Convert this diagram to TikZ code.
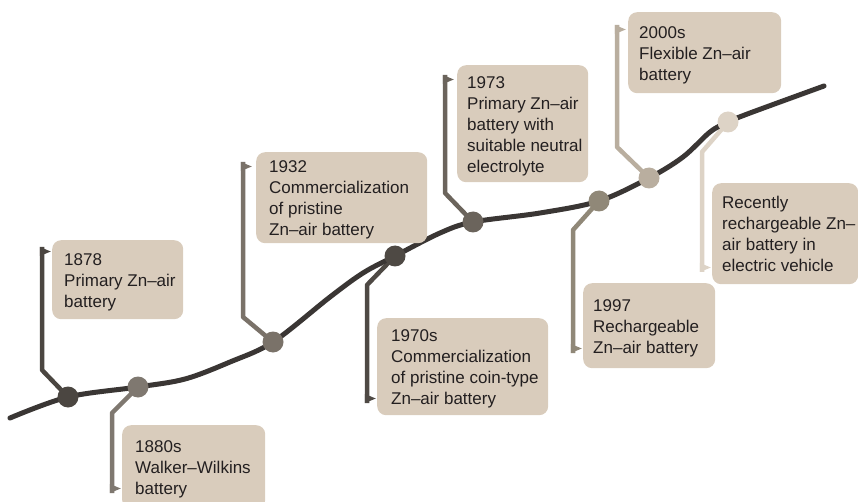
\documentclass[tikz,border=0pt]{standalone}
\usepackage{fontspec}
\setmainfont{Liberation Sans}
\usetikzlibrary{backgrounds}
\definecolor{boxfill}{HTML}{D9CCBC}
\definecolor{txt}{HTML}{231F20}
\definecolor{curvec}{HTML}{3A3634}
\definecolor{c1}{HTML}{4B4641}
\definecolor{c2}{HTML}{7F7870}
\definecolor{c3}{HTML}{7A7269}
\definecolor{c4}{HTML}{4E4944}
\definecolor{c5}{HTML}{6B645C}
\definecolor{c6}{HTML}{908878}
\definecolor{c7}{HTML}{B9AE9F}
\definecolor{c8}{HTML}{DDD3C6}
\newcommand\boxtext[3]{\makebox[#1][l]{\hspace{#2}\begin{tabular}{@{}l@{}}\rule{0pt}{19.5pt}#3\end{tabular}}}
\tikzset{
  tbox/.style={fill=boxfill, rounded corners=9pt, inner sep=0pt, anchor=north west,
    text=txt, font=\fontsize{17}{21}\selectfont},
  dot/.style={circle, inner sep=0pt, minimum size=21pt, fill=#1},
  link/.style={line width=4.5pt, line join=round, draw=#1},
  curvestyle/.style={line width=5pt, draw=curvec, line cap=round},
}
\begin{document}
\begin{tikzpicture}[x=1pt,y=-1pt]
\useasboundingbox (0,0) rectangle (858,502);
\clip (0,0) rectangle (858,502);
% milestone dots
\node[dot=c1] (n1) at (68,397) {};
\node[dot=c2] (n2) at (138,387) {};
\node[dot=c3] (n3) at (273,342) {};
\node[dot=c4] (n4) at (395,256) {};
\node[dot=c5] (n5) at (473,222) {};
\node[dot=c6] (n6) at (599,201) {};
\node[dot=c7] (n7) at (649,178) {};
\node[dot=c8] (n8) at (728,122) {};
% boxes
\node[tbox, minimum width=131pt, minimum height=79pt] (b1) at (52,240)
  {\boxtext{131pt}{12pt}{1878\\Primary Zn–air\\battery}};
\node[tbox, minimum width=143pt, minimum height=84pt] (b2) at (122,425)
  {\boxtext{143pt}{13pt}{1880s\\Walker–Wilkins\\battery}};
\node[tbox, minimum width=171pt, minimum height=91pt] (b3) at (256,152)
  {\boxtext{171pt}{13pt}{1932\\Commercialization\\of pristine\\Zn–air battery}};
\node[tbox, minimum width=171pt, minimum height=97pt] (b4) at (377,318)
  {\boxtext{171pt}{14pt}{1970s\\Commercialization\\of pristine coin-type\\Zn–air battery}};
\node[tbox, minimum width=131pt, minimum height=117pt] (b5) at (457,65)
  {\boxtext{131pt}{10pt}{1973\\Primary Zn–air\\battery with\\suitable neutral\\electrolyte}};
\node[tbox, minimum width=132pt, minimum height=85pt] (b6) at (583,283)
  {\boxtext{132pt}{10pt}{1997\\Rechargeable\\Zn–air battery}};
\node[tbox, minimum width=153pt, minimum height=81pt] (b7) at (628,12)
  {\boxtext{153pt}{11pt}{2000s\\Flexible Zn–air\\battery}};
\node[tbox, minimum width=146pt, minimum height=101pt] (b8) at (712,183)
  {\boxtext{146pt}{10pt}{Recently\\rechargeable Zn–\\air battery in\\electric vehicle}};
% connector end points
\coordinate (k1) at (42,370);  \coordinate (e1) at (42,247);
\coordinate (k2) at (112,413); \coordinate (e2) at (112,493);
\coordinate (k3) at (243,317); \coordinate (e3) at (243,162);
\coordinate (k4) at (367,285); \coordinate (e4) at (367,403);
\coordinate (k5) at (445,193); \coordinate (e5) at (445,75);
\coordinate (k6) at (573,230); \coordinate (e6) at (573,353);
\coordinate (k7) at (617,147); \coordinate (e7) at (617,25);
\coordinate (k8) at (702,152); \coordinate (e8) at (702,272);
\begin{pgfonlayer}{background}
  \draw[link=c1] (n1.center) -- (k1) -- (e1);
  \fill[c1] (e1) ++(-2.2,0) -- ++(11,4.5) -- ++(-11,4.5) -- cycle;
  \draw[link=c2] (n2.center) -- (k2) -- (e2);
  \fill[c2] (e2) ++(-2.2,0) -- ++(11,-4.5) -- ++(-11,-4.5) -- cycle;
  \draw[link=c3] (n3.center) -- (k3) -- (e3);
  \fill[c3] (e3) ++(-2.2,0) -- ++(11,4.5) -- ++(-11,4.5) -- cycle;
  \draw[link=c4] (n4.center) -- (k4) -- (e4);
  \fill[c4] (e4) ++(-2.2,0) -- ++(11,-4.5) -- ++(-11,-4.5) -- cycle;
  \draw[link=c5] (n5.center) -- (k5) -- (e5);
  \fill[c5] (e5) ++(-2.2,0) -- ++(11,4.5) -- ++(-11,4.5) -- cycle;
  \draw[link=c6] (n6.center) -- (k6) -- (e6);
  \fill[c6] (e6) ++(-2.2,0) -- ++(11,-4.5) -- ++(-11,-4.5) -- cycle;
  \draw[link=c7] (n7.center) -- (k7) -- (e7);
  \fill[c7] (e7) ++(-2.2,0) -- ++(11,4.5) -- ++(-11,4.5) -- cycle;
  \draw[link=c8] (n8.center) -- (k8) -- (e8);
  \fill[c8] (e8) ++(-2.2,0) -- ++(11,-4.5) -- ++(-11,-4.5) -- cycle;
  \draw[curvestyle] plot[smooth, tension=0.55] coordinates {
    (10,418) (n1.center) (n2.center) (185,379) (230,362) (n3.center)
    (330,297) (363,273) (n4.center) (440,233) (n5.center) (540,213)
    (n6.center) (n7.center) (683,157) (710,132) (n8.center) (750,113) (824,86)};
\end{pgfonlayer}
\end{tikzpicture}
\end{document}
